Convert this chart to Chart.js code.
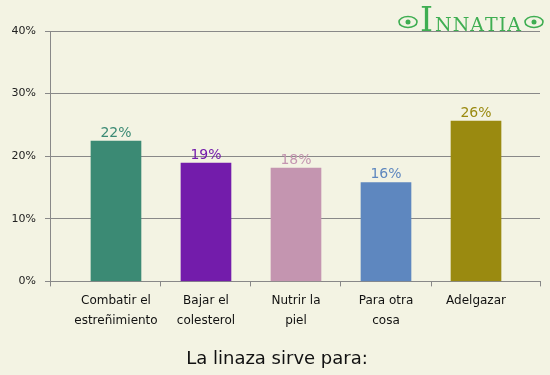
<!DOCTYPE html>
<html>
<head>
<meta charset="utf-8">
<script src="https://cdn.jsdelivr.net/npm/chart.js@4/dist/chart.umd.min.js"></script>
<style>
  html, body { margin: 0; padding: 0; background: #f3f3e3; }
  #wrap { width: 550px; height: 375px; position: relative; }
</style>
</head>
<body>
<div id="wrap"><canvas id="chart"></canvas></div>
<script>
// categories, values and tick labels
const categories = [
  ["Combatir el", "estreñimiento"],
  ["Bajar el", "colesterol"],
  ["Nutrir la", "piel"],
  ["Para otra", "cosa"],
  ["Adelgazar"]
];
const percentages = [22.4, 18.9, 18.1, 15.8, 25.6];
const valueLabels = ["22%", "19%", "18%", "16%", "26%"];
const barColors = ["#3b8a74", "#731cab", "#c495b0", "#5e87bf", "#9a8a10"];
const yTicks = [0, 10, 20, 30, 40];

const X_MIN = -0.733;
const X_MAX = 4.711;

const barLabels = {
  id: "barLabels",
  afterDatasetsDraw(chart) {
    const ctx = chart.ctx;
    const meta = chart.getDatasetMeta(0);
    ctx.save();
    ctx.font = "14px 'DejaVu Sans'";
    ctx.textAlign = "center";
    ctx.textBaseline = "bottom";
    meta.data.forEach((bar, i) => {
      ctx.fillStyle = barColors[i];
      ctx.fillText(valueLabels[i], bar.x, bar.y - 1);
    });
    ctx.restore();
  }
};

// small "INNATIA" logo top right
const logo = {
  id: "logo",
  afterDraw(chart) {
    const ctx = chart.ctx;
    ctx.save();
    ctx.fillStyle = "#3fae52";
    ctx.strokeStyle = "#3fae52";
    ctx.textBaseline = "alphabetic";
    ctx.font = "33px 'DejaVu Serif'";
    ctx.fillText("I", 420, 31);
    ctx.font = "19px 'DejaVu Serif'";
    let x = 435;
    for (const ch of "NNATIA") {
      ctx.fillText(ch, x, 31);
      x += ctx.measureText(ch).width + 1;
    }
    ctx.lineWidth = 1.6;
    [[408, 22], [534, 22]].forEach(([cx, cy]) => {
      ctx.beginPath();
      ctx.ellipse(cx, cy, 9, 5.5, 0, 0, Math.PI * 2);
      ctx.stroke();
      ctx.beginPath();
      ctx.arc(cx, cy, 2.5, 0, Math.PI * 2);
      ctx.fill();
    });
    ctx.restore();
  }
};

new Chart(document.getElementById("chart"), {
  type: "bar",
  data: {
    datasets: [{
      data: percentages.map((v, i) => ({ x: i, y: v })),
      backgroundColor: barColors,
      barThickness: 50
    }]
  },
  options: {
    responsive: true,
    maintainAspectRatio: false,
    animation: false,
    layout: { padding: { top: 31, right: 0, left: 4, bottom: 0 } },
    plugins: {
      legend: { display: false },
      tooltip: { enabled: false },
      title: {
        display: true,
        position: "bottom",
        text: "La linaza sirve para:",
        color: "#111",
        font: { family: "DejaVu Sans", size: 18, weight: "normal", lineHeight: 1.2 },
        padding: { top: 7, bottom: 5 }
      }
    },
    scales: {
      x: {
        type: "linear",
        offset: false,
        min: X_MIN,
        max: X_MAX,
        afterBuildTicks(scale) {
          const vals = [X_MIN, 0, 0.5, 1, 1.5, 2, 2.5, 3, 3.5, 4, X_MAX];
          scale.ticks = vals.map(v => ({ value: v }));
        },
        afterFit(scale) { scale.height = 60; },
        grid: {
          offset: false,
          drawOnChartArea: false,
          tickLength: 5,
          tickColor: (c) => Number.isInteger(c.tick && c.tick.value) ? "rgba(0,0,0,0)" : "#888"
        },
        border: { color: "#888" },
        ticks: {
          autoSkip: false,
          maxRotation: 0,
          padding: 5,
          color: "#111",
          font: { family: "DejaVu Sans", size: 12, lineHeight: 1.65 },
          callback: (v) => Number.isInteger(v) ? categories[v] : ""
        }
      },
      y: {
        min: 0,
        max: 40,
        afterBuildTicks(scale) {
          scale.ticks = yTicks.map(v => ({ value: v }));
        },
        afterFit(scale) { scale.width = 46; },
        grid: { color: "#888", tickLength: 5 },
        border: { color: "#888" },
        ticks: {
          padding: 9,
          color: "#222",
          font: { family: "DejaVu Sans", size: 11 },
          callback: (v) => v + "%"
        }
      },
      // empty spacer on the right so the plot ends 10px before the edge
      yRight: {
        position: "right",
        min: 0,
        max: 40,
        afterFit(scale) { scale.width = 10; },
        grid: { display: false },
        border: { display: false },
        ticks: { display: false }
      }
    }
  },
  plugins: [barLabels, logo]
});
</script>
</body>
</html>
